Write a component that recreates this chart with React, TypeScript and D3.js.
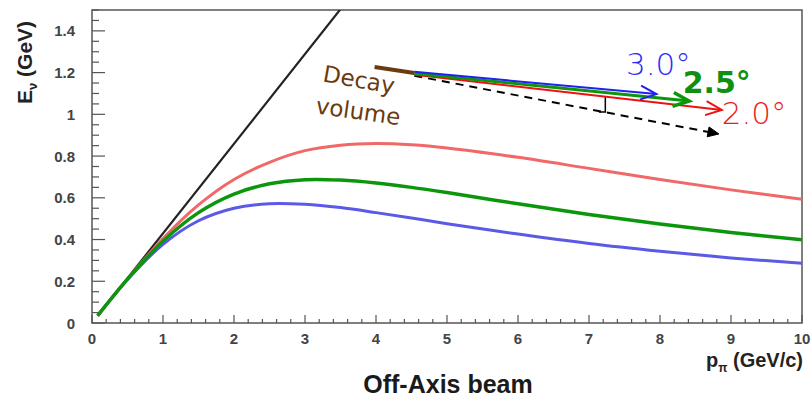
import React from "react";
import * as d3 from "d3";

// Pion momentum grid (GeV/c) and neutrino energies (GeV) for each off-axis angle
const momenta = [0.08, 0.5, 1, 1.5, 2, 2.5, 3, 3.5, 4, 4.5, 5, 6, 7, 8, 9, 10];
const energy20 = [0.035, 0.211, 0.405, 0.566, 0.688, 0.77, 0.826, 0.852, 0.86, 0.854, 0.839, 0.794, 0.741, 0.688, 0.638, 0.593];
const energy25 = [0.035, 0.21, 0.392, 0.529, 0.618, 0.667, 0.687, 0.685, 0.671, 0.65, 0.625, 0.571, 0.52, 0.474, 0.434, 0.399];
const energy30 = [0.035, 0.208, 0.377, 0.49, 0.55, 0.572, 0.569, 0.553, 0.529, 0.503, 0.476, 0.426, 0.381, 0.344, 0.312, 0.286];
// On-axis (0°) line
const onAxisP = [0.08, 3.7];
const onAxisE = [0.034, 1.59];

const xTicks = [0, 1, 2, 3, 4, 5, 6, 7, 8, 9, 10];
const yTicks = [0, 0.2, 0.4, 0.6, 0.8, 1, 1.2, 1.4];
const yTickLabels = ["0", "0.2", "0.4", "0.6", "0.8", "1", "1.2", "1.4"];

const W = 811;
const H = 401;
const plot = { left: 92, right: 802, top: 10, bottom: 323 };

export default function App() {
  const x = d3.scaleLinear().domain([0, 10]).range([plot.left, plot.right]);
  const y = d3.scaleLinear().domain([0, 1.5]).range([plot.bottom, plot.top]);

  const line = d3
    .line<[number, number]>()
    .x((d) => x(d[0]))
    .y((d) => y(d[1]))
    .curve(d3.curveCatmullRom.alpha(0.5));

  const pts = (vals: number[]) => momenta.map((p, i) => [p, vals[i]] as [number, number]);
  const onAxis = onAxisP.map((p, i) => [p, onAxisE[i]] as [number, number]);

  const minorX = d3.range(0, 10.001, 0.2);
  const minorY = d3.range(0, 1.5001, 0.05);

  // annotation anchor points in data coordinates
  const P = (p: number, e: number) => [x(p), y(e)] as [number, number];
  const decayStart = P(3.98, 1.227);
  const decayEnd = P(4.54, 1.198);

  const arrowHead = (from: [number, number], to: [number, number], len: number, half: number) => {
    const ang = Math.atan2(to[1] - from[1], to[0] - from[0]);
    const bx = to[0] - len * Math.cos(ang);
    const by = to[1] - len * Math.sin(ang);
    const nx = -Math.sin(ang) * half;
    const ny = Math.cos(ang) * half;
    return `M${bx + nx},${by + ny}L${to[0]},${to[1]}L${bx - nx},${by - ny}`;
  };

  const blueFrom = P(4.54, 1.204);
  const blueTo = P(7.95, 1.097);
  const greenFrom = P(4.54, 1.196);
  const greenTo = P(8.41, 1.064);
  const redFrom = P(4.54, 1.19);
  const redTo = P(8.87, 1.021);
  const dashFrom = P(4.54, 1.185);
  const dashTo = P(8.83, 0.906);

  const dashAng = Math.atan2(dashTo[1] - dashFrom[1], dashTo[0] - dashFrom[0]);
  const dashLineEnd: [number, number] = [dashTo[0] - 9 * Math.cos(dashAng), dashTo[1] - 9 * Math.sin(dashAng)];

  const rightAngle = [P(7.23, 1.083), P(7.23, 1.011), P(7.14, 1.011)];

  const axisColor = "#555";
  const tickFont = "'Liberation Sans', Arial, sans-serif";

  return (
    <svg
      width={W}
      height={H}
      style={{ position: "absolute", left: 0, top: 0, background: "#fff" }}
      fontFamily={tickFont}
    >
      <defs>
        <clipPath id="plotClip">
          <rect x={plot.left} y={plot.top} width={plot.right - plot.left} height={plot.bottom - plot.top} />
        </clipPath>
      </defs>

      {/* frame */}
      <rect
        x={plot.left}
        y={plot.top}
        width={plot.right - plot.left}
        height={plot.bottom - plot.top}
        fill="none"
        stroke={axisColor}
        strokeWidth={1.5}
      />

      {/* x ticks (inward) */}
      {minorX.map((v, i) => {
        const major = i % 5 === 0;
        return (
          <line
            key={"xt" + i}
            x1={x(v)}
            x2={x(v)}
            y1={plot.bottom}
            y2={plot.bottom - (major ? 8 : 4)}
            stroke={axisColor}
            strokeWidth={1.2}
          />
        );
      })}
      {/* y ticks (inward) */}
      {minorY.map((v, i) => {
        const major = i % 4 === 0;
        return (
          <line
            key={"yt" + i}
            x1={plot.left}
            x2={plot.left + (major ? 13 : 7)}
            y1={y(v)}
            y2={y(v)}
            stroke={axisColor}
            strokeWidth={1.2}
          />
        );
      })}

      {/* tick labels */}
      {xTicks.map((v) => (
        <text
          key={"xl" + v}
          x={x(v)}
          y={344}
          textAnchor="middle"
          fontSize={15}
          fontWeight="bold"
          fill="#444"
        >
          {v}
        </text>
      ))}
      {yTicks.map((v, i) => (
        <text
          key={"yl" + v}
          x={75}
          y={y(v) + 5.5}
          textAnchor="end"
          fontSize={15}
          fontWeight="bold"
          fill="#444"
        >
          {yTickLabels[i]}
        </text>
      ))}

      {/* axis titles */}
      <text
        transform="translate(32,104) rotate(-90)"
        fontSize={21}
        fontWeight="bold"
        fill="#222"
      >
        E
        <tspan fontSize={13} dy={5}>
          ν
        </tspan>
        <tspan dy={-5}> (GeV)</tspan>
      </text>
      <text x={803} y={367} textAnchor="end" fontSize={20} fontWeight="bold" fill="#222">
        p
        <tspan fontSize={12} dy={5}>
          π
        </tspan>
        <tspan dy={-5}> (GeV/c)</tspan>
      </text>
      <text x={448} y={393} textAnchor="middle" fontSize={25} fontWeight="bold" fill="#1a1a1a">
        Off-Axis beam
      </text>

      {/* curves */}
      <g clipPath="url(#plotClip)" fill="none">
        <path d={line(onAxis) ?? ""} stroke="#222" strokeWidth={2.2} />
        <path d={line(pts(energy20)) ?? ""} stroke="#f06868" strokeWidth={3} />
        <path d={line(pts(energy30)) ?? ""} stroke="#5a5ae6" strokeWidth={3} />
        <path d={line(pts(energy25)) ?? ""} stroke="#0c960c" strokeWidth={3.5} />
      </g>

      {/* beam direction diagram */}
      <g fill="none" strokeLinecap="butt">
        <line
          x1={dashFrom[0]}
          y1={dashFrom[1]}
          x2={dashLineEnd[0]}
          y2={dashLineEnd[1]}
          stroke="#000"
          strokeWidth={2}
          strokeDasharray="8,6"
        />
        <path
          d={arrowHead(dashFrom, dashTo, 11, 5) + "Z"}
          fill="#000"
          stroke="#000"
          strokeWidth={1}
        />
        <polyline
          points={rightAngle.map((p) => p.join(",")).join(" ")}
          stroke="#000"
          strokeWidth={1.5}
        />
        <line x1={redFrom[0]} y1={redFrom[1]} x2={redTo[0]} y2={redTo[1]} stroke="#f01010" strokeWidth={2} />
        <path d={arrowHead(redFrom, redTo, 16, 7)} stroke="#f01010" strokeWidth={2} />
        <line x1={greenFrom[0]} y1={greenFrom[1]} x2={greenTo[0]} y2={greenTo[1]} stroke="#0c960c" strokeWidth={3} />
        <path d={arrowHead(greenFrom, greenTo, 16, 7)} stroke="#0c960c" strokeWidth={3.5} />
        <line x1={blueFrom[0]} y1={blueFrom[1]} x2={blueTo[0]} y2={blueTo[1]} stroke="#2020f0" strokeWidth={2} />
        <path d={arrowHead(blueFrom, blueTo, 16, 7)} stroke="#2020f0" strokeWidth={2} />
        <line
          x1={decayStart[0]}
          y1={decayStart[1]}
          x2={decayEnd[0]}
          y2={decayEnd[1]}
          stroke="#6b3a0e"
          strokeWidth={4}
        />
      </g>

      {/* angle labels */}
      <text x={x(7.52)} y={y(1.19)} fontSize={31} fill="#2a2af5" fontFamily="'DejaVu Sans', sans-serif" fontWeight={200}>
        3.0°
      </text>
      <text x={x(8.32)} y={y(1.102)} fontSize={30} fill="#109010" fontWeight="bold" fontFamily="'DejaVu Sans', sans-serif">
        2.5°
      </text>
      <text x={x(8.87)} y={y(0.953)} fontSize={31} fill="#f01818" fontFamily="'DejaVu Sans', sans-serif" fontWeight={200}>
        2.0°
      </text>

      {/* decay volume label */}
      <g fill="#6b3a0e" fontFamily="'DejaVu Sans', sans-serif" fontSize={23}>
        <text transform={`translate(${x(3.24)},${y(1.158)}) rotate(10)`}>Decay</text>
        <text transform={`translate(${x(3.14)},${y(1.005)}) rotate(8)`}>volume</text>
      </g>
    </svg>
  );
}
